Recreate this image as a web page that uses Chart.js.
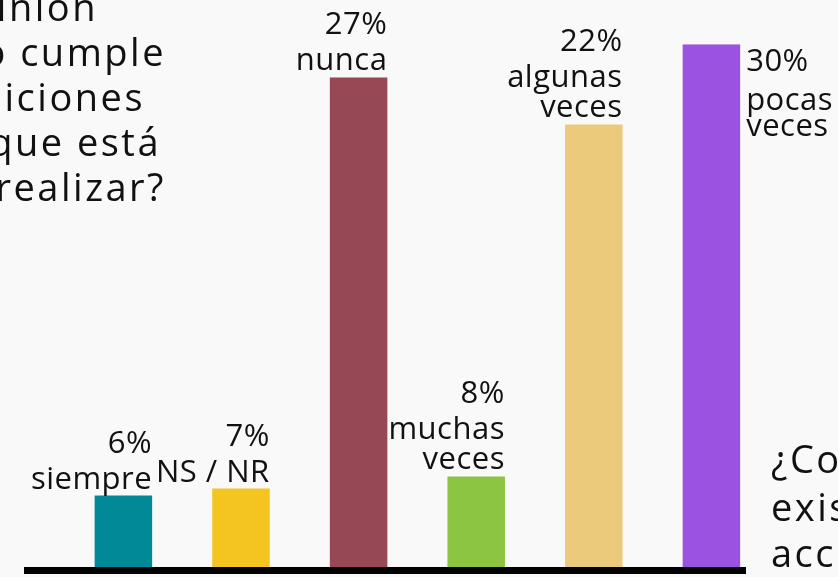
<!DOCTYPE html>
<html>
<head>
<meta charset="utf-8">
<script src="https://cdn.jsdelivr.net/npm/chart.js@4/dist/chart.umd.min.js"></script>
<style>
  html, body { margin: 0; padding: 0; background: #f9f9f9; overflow: hidden; }
  canvas { display: block; }
</style>
</head>
<body>
<canvas id="c" width="838" height="577"></canvas>
<script>
// ---- data ----
const categories = [["siempre"], ["NS / NR"], ["nunca"], ["muchas", "veces"], ["algunas", "veces"], ["pocas", "veces"]];
const percentLabels = [6, 7, 27, 8, 22, 30];
// bar lengths as drawn in the picture (same units, purple bar = 30)
const barLengths = [4.1, 4.5, 28.1, 5.2, 25.4, 30];
const barColors = ["#018997", "#f4c521", "#964955", "#8bc541", "#ebca7b", "#9b52e0"];
const leftTitle = [
  { text: "opinión", right: 98 },
  { text: "o cumple", right: 166 },
  { text: "condiciones", right: 145 },
  { text: "que está", right: 161 },
  { text: "por realizar?", right: 166 }
];
const rightTitle = ["¿Considera que", "existe un", "acceso"];

const textColor = "#111111";
const labelFont = "31px 'Open Sans'";
const titleFont = "38px 'Open Sans'";

const baselinePlugin = {
  id: "baseline",
  afterDatasetsDraw(chart) {
    const ctx = chart.ctx;
    const y0 = chart.scales.y.getPixelForValue(0);
    ctx.save();
    ctx.fillStyle = "#000";
    ctx.fillRect(24, y0, 722, 7);
    ctx.restore();
  }
};

const labelPlugin = {
  id: "barLabels",
  afterDatasetsDraw(chart) {
    const ctx = chart.ctx;
    const meta = chart.getDatasetMeta(0);
    const last = meta.data.length - 1;
    ctx.save();
    ctx.fillStyle = textColor;
    ctx.font = labelFont;
    ctx.letterSpacing = "0.5px";
    ctx.textBaseline = "alphabetic";
    meta.data.forEach((bar, i) => {
      const p = bar.getProps(["x", "y", "width"], true);
      const right = p.x + p.width / 2;
      const words = categories[i];
      const pct = percentLabels[i] + "%";
      if (i === last) {
        ctx.textAlign = "left";
        let by = p.y + 27;
        ctx.fillText(pct, right + 6, by);
        by += 39;
        words.forEach(w => { ctx.fillText(w, right + 6, by); by += 26; });
      } else {
        ctx.textAlign = "right";
        let by = p.y - 7;
        for (let j = words.length - 1; j >= 0; j--) {
          ctx.fillText(words[j], right, by);
          if (j > 0) by -= 30;
        }
        by -= 36;
        ctx.fillText(pct, right, by);
      }
    });
    ctx.restore();
  }
};

const titlePlugin = {
  id: "titles",
  afterDraw(chart) {
    const ctx = chart.ctx;
    ctx.save();
    ctx.fillStyle = textColor;
    ctx.font = titleFont;
    ctx.letterSpacing = "2.5px";
    ctx.textAlign = "right";
    leftTitle.forEach((l, k) => {
      ctx.fillText(l.text, l.right, 21 + 45 * k);
    });
    ctx.textAlign = "left";
    const rb = [473, 521, 567];
    rightTitle.forEach((t, k) => ctx.fillText(t, 771, rb[k]));
    ctx.restore();
  }
};

new Chart(document.getElementById("c"), {
  type: "bar",
  data: {
    labels: categories,
    datasets: [{
      data: barLengths,
      backgroundColor: barColors,
      borderWidth: 0,
      barPercentage: 0.489,
      categoryPercentage: 1
    }]
  },
  options: {
    responsive: false,
    animation: false,
    layout: { padding: { left: 64.6, right: 67.8, top: 44.3, bottom: 10 } },
    plugins: { legend: { display: false }, tooltip: { enabled: false } },
    scales: {
      x: { display: false },
      y: { display: false, min: 0, max: 30 }
    }
  },
  plugins: [baselinePlugin, labelPlugin, titlePlugin]
});
</script>
</body>
</html>
